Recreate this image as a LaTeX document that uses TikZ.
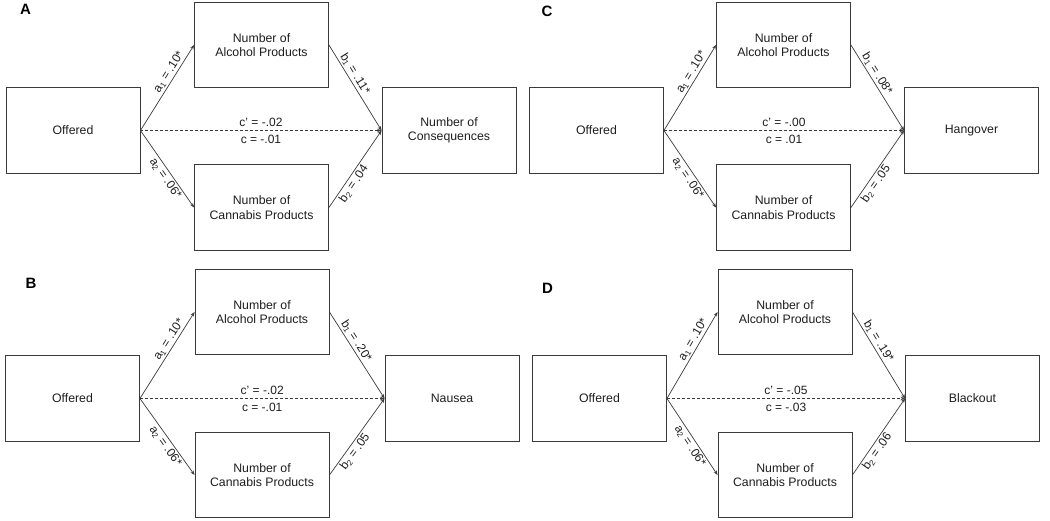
\documentclass[tikz,border=0pt]{standalone}
\usepackage{fontspec}
\setmainfont{Liberation Sans}
\usetikzlibrary{arrows.meta}
\definecolor{ln}{HTML}{3A3A3A}
\definecolor{tx}{HTML}{1E1E1E}
\tikzset{
 box/.style={draw=ln, line width=0.9pt, minimum width=134pt, minimum height=85.5pt, inner sep=0pt, align=center, text=tx, font=\fontsize{12.3}{14.5}\selectfont},
 conn/.style={draw=ln, line width=0.7pt, -{Stealth[length=4.5pt,width=3.5pt]}},
 dconn/.style={conn, dash pattern=on 3pt off 2pt},
 lab/.style={font=\fontsize{12}{14}\selectfont, text=tx, inner sep=1.5pt},
 plabel/.style={font=\bfseries\fontsize{15}{18}\selectfont, text=black, inner sep=0pt}
}
\newcommand\drawpanel[8]{%
 \node[box] (#1alc) at (\xm,\ya) {Number of\\Alcohol Products};
 \node[box] (#1off) at (\xo,\yb) {Offered};
 \node[box] (#1can) at (\xm,\yc) {Number of\\Cannabis Products};
 \node[box] (#1out) at (\xe,\yb) {#2};
 \draw[conn] (#1off.east) -- node[lab,sloped,above,pos=0.64]{a\textsubscript{1} = #3} (#1alc.west);
 \draw[conn] (#1off.east) -- node[lab,sloped,below,pos=0.57]{a\textsubscript{2} = #4} (#1can.west);
 \draw[conn] (#1alc.east) -- node[lab,sloped,above,pos=0.38]{b\textsubscript{1} = #5} (#1out.west);
 \draw[conn] (#1can.east) -- node[lab,sloped,below,pos=0.36]{b\textsubscript{2} = #6} (#1out.west);
 \draw[dconn] (#1off.east) -- node[lab,above=2.5pt]{c\textquoteright{} = #7} node[lab,below=2.5pt]{c = #8} (#1out.west);
}
\begin{document}
\begin{tikzpicture}[x=1pt,y=-1pt]
\useasboundingbox (0,0) rectangle (1050,521);
% Panel A
\def\xo{73}\def\xm{261.5}\def\xe{449}\def\ya{45}\def\yb{130.5}\def\yc{207.5}
\node[plabel] (lA) at (25.5,9) {A};
\drawpanel{A}{Number of\\Consequences}{.10*}{.06*}{.11*}{.04}{-.02}{-.01}
% Panel B
\def\xo{72.5}\def\xm{262}\def\xe{452}\def\ya{312}\def\yb{398.5}\def\yc{475}
\node[plabel] (lB) at (31,283) {B};
\drawpanel{B}{Nausea}{.10*}{.06*}{.20*}{.05}{-.02}{-.01}
% Panel C
\def\xo{596.5}\def\xm{783.5}\def\xe{971.5}\def\ya{45}\def\yb{130.5}\def\yc{207.5}
\node[plabel] (lC) at (547,11) {C};
\drawpanel{C}{Hangover}{.10*}{.06*}{.08*}{.05}{-.00}{.01}
% Panel D
\def\xo{599.5}\def\xm{785}\def\xe{972.5}\def\ya{312}\def\yb{398.5}\def\yc{475}
\node[plabel] (lD) at (547.5,288) {D};
\drawpanel{D}{Blackout}{.10*}{.06*}{.19*}{.06}{-.05}{-.03}
\end{tikzpicture}
\end{document}
